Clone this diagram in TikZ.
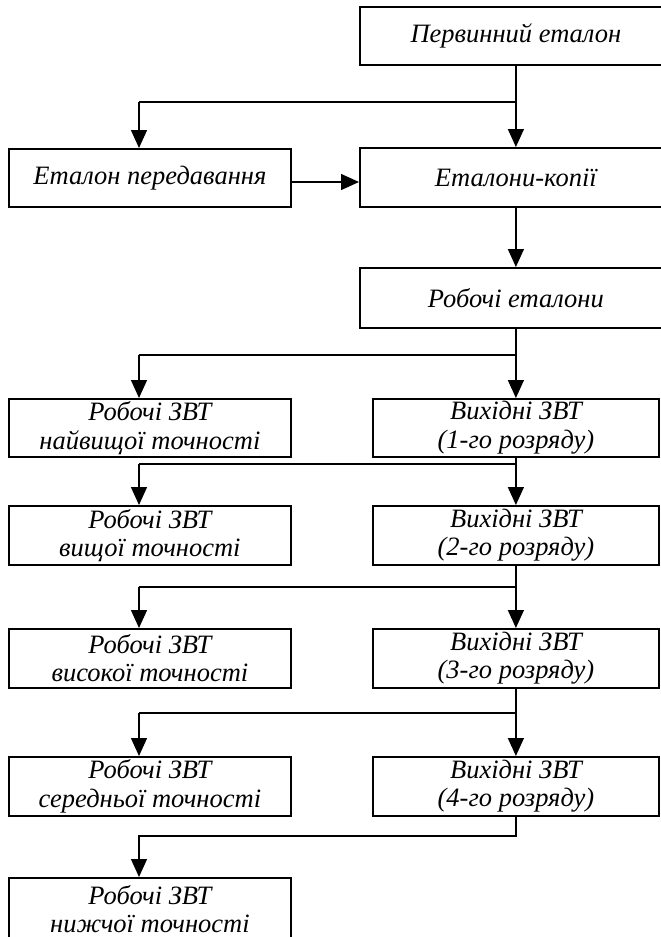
\documentclass[tikz,border=0pt]{standalone}
\usepackage{fontspec}
\setmainfont{Liberation Serif}
\usetikzlibrary{arrows.meta}
\begin{document}
\begin{tikzpicture}[x=1pt,y=-1pt,
  box/.style={draw, line width=1.8pt, rectangle, anchor=north west, inner sep=0pt,
    align=center, font=\itshape\fontsize{26.5}{28.5}\selectfont},
  rbox/.style={box, minimum width=312pt},
  vbox/.style={box, minimum width=286pt, minimum height=58pt},
  lbox/.style={box, minimum width=282pt, minimum height=58pt},
  conn/.style={line width=1.4pt},
  arr/.style={conn, -{Triangle[length=18pt,width=16pt]}}]
\useasboundingbox (0,0) rectangle (661,937);
\clip (0,0) rectangle (661,937);
% boxes
\node[rbox, minimum height=58pt] (p) at (359,6) {Первинний еталон};
\node[lbox] (e) at (8,148) {Еталон передавання};
\node[rbox, minimum height=59pt] (k) at (359,147) {Еталони-копії};
\node[rbox, minimum height=60pt] (r) at (359,267) {Робочі еталони};
\node[lbox] (l1) at (8,398) {Робочі ЗВТ\\найвищої точності};
\node[vbox] (v1) at (372,398) {Вихідні ЗВТ\\(1-го розряду)};
\node[lbox, minimum height=59pt] (l2) at (8,505) {Робочі ЗВТ\\вищої точності};
\node[vbox, minimum height=59pt] (v2) at (372,505) {Вихідні ЗВТ\\(2-го розряду)};
\node[lbox, minimum height=59pt] (l3) at (8,628) {Робочі ЗВТ\\високої точності};
\node[vbox, minimum height=59pt] (v3) at (372,628) {Вихідні ЗВТ\\(3-го розряду)};
\node[lbox, minimum height=59pt] (l4) at (8,756) {Робочі ЗВТ\\середньої точності};
\node[vbox, minimum height=59pt] (v4) at (372,756) {Вихідні ЗВТ\\(4-го розряду)};
\node[lbox, minimum height=63pt] (l5) at (8,877) {Робочі ЗВТ\\нижчої точності};
% junction points
\coordinate (j0) at (139,102);
\coordinate (h0) at (0,182);
\coordinate (j1) at (139,355);
\coordinate (j2) at (139,464);
\coordinate (j3) at (139,587);
\coordinate (j4) at (139,713);
\coordinate (j5) at (139,836);
% connectors
\draw[arr] (p.south) -- (k.north);
\draw[conn] (p.south |- j0) -- (j0);
\draw[arr] (j0) -- (j0 |- e.north);
\draw[arr] (e.east |- h0) -- (k.west |- h0);
\draw[arr] (k.south) -- (r.north);
\draw[arr] (r.south) -- (v1.north);
\draw[conn] (r.south |- j1) -- (j1);
\draw[arr] (j1) -- (j1 |- l1.north);
\draw[arr] (v1.south) -- (v2.north);
\draw[conn] (v1.south |- j2) -- (j2);
\draw[arr] (j2) -- (j2 |- l2.north);
\draw[arr] (v2.south) -- (v3.north);
\draw[conn] (v2.south |- j3) -- (j3);
\draw[arr] (j3) -- (j3 |- l3.north);
\draw[arr] (v3.south) -- (v4.north);
\draw[conn] (v3.south |- j4) -- (j4);
\draw[arr] (j4) -- (j4 |- l4.north);
\draw[arr] (v4.south) |- (j5) -- (j5 |- l5.north);
\end{tikzpicture}
\end{document}
